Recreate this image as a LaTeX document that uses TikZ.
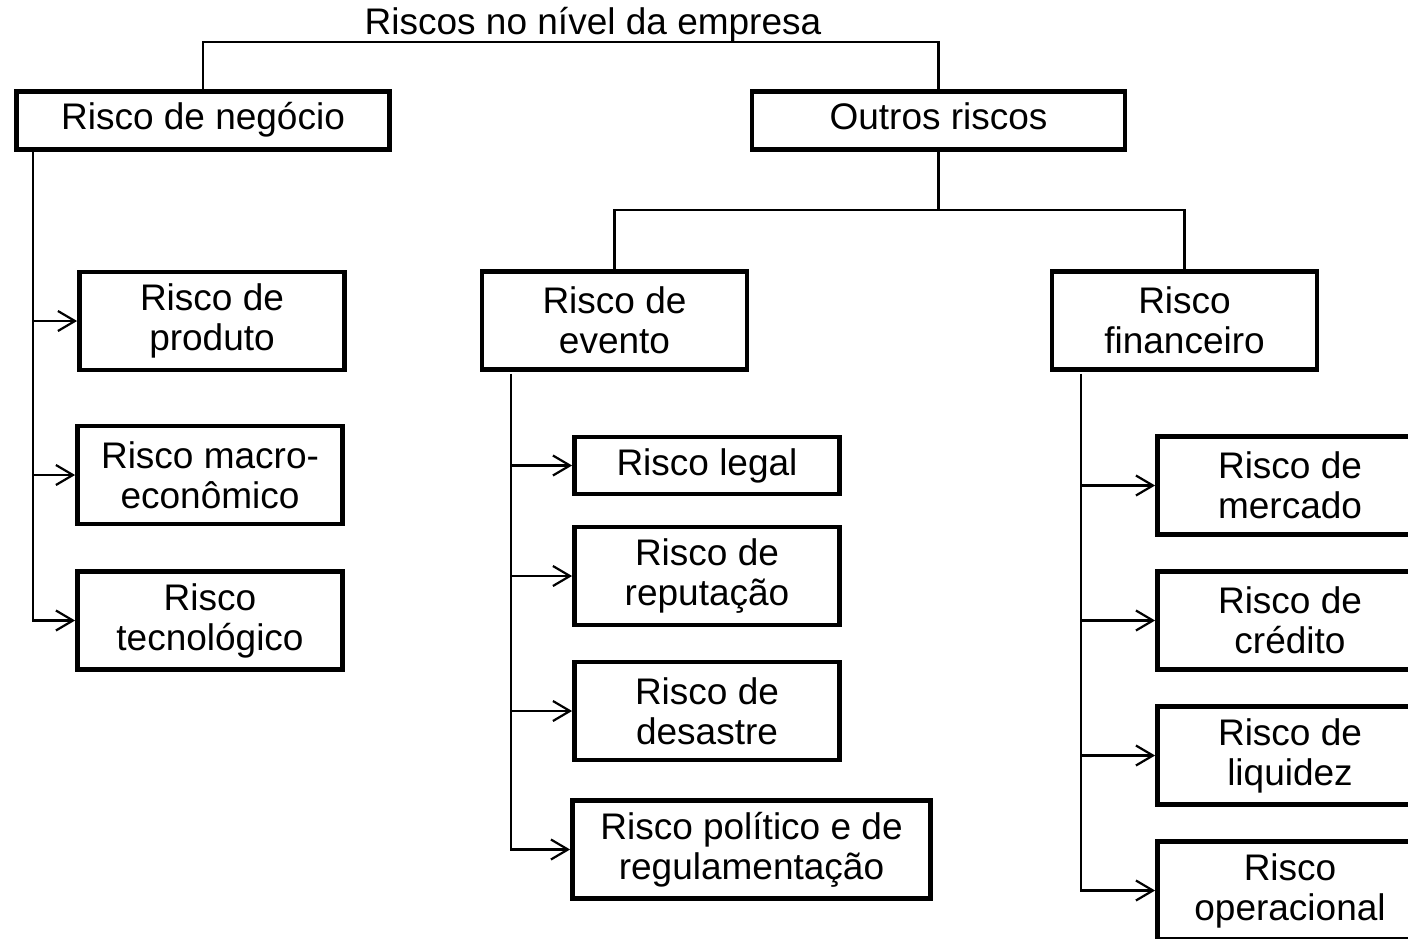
\documentclass[tikz,border=0pt]{standalone}
\usepackage{fontspec}
\setmainfont{Liberation Sans}
\usetikzlibrary{arrows.meta}
\tikzset{
  lab/.style={font=\fontsize{37}{40}\selectfont, inner sep=0pt},
  box/.style={draw=black, line width=4.8pt, fill=white, align=center, inner sep=0pt, font=\fontsize{37}{40}\selectfont},
  top/.style={box, minimum width=373pt, minimum height=58pt, text height=27pt, text depth=8pt},
  sub/.style={box, minimum width=265pt, minimum height=98pt},
  con/.style={draw=black, line width=2.2pt},
  arr/.style={con, -{Straight Barb[length=17pt,width=20pt]}},
}
\begin{document}
\begin{tikzpicture}[x=1pt,y=-1pt]
  \useasboundingbox (0,0) rectangle (1408,939);
  \clip (0,0) rectangle (1408,939);
  % top level
  \node[lab,anchor=south] (title) at (593,42) {Riscos no nível da empresa};
  \node[top] (neg) at (203,120.5) {Risco de negócio};
  \node[top] (outros) at (938.5,120.5) {Outros riscos};
  \draw[con] (neg.north) |- (title.south) -| (outros.north);
  % second level
  \node[sub] (evento) at (614.5,320.5) {Risco de\\evento};
  \node[sub] (fin) at (1184.5,320.5) {Risco\\financeiro};
  \coordinate (split) at ([yshift=-58pt]outros.south);
  \draw[con] (outros.south) -- (split);
  \draw[con] (evento.north) |- (split) -| (fin.north);
  % business risks
  \node[sub] (prod) at (212,321) {Risco de\\produto};
  \node[sub] (macro) at (210,475) {Risco macro-\\econômico};
  \node[sub] (tec) at (210,620.5) {Risco\\tecnológico};
  \coordinate (negT) at ([xshift=19pt]neg.south west);
  \foreach \c in {prod,macro}
    \draw[arr] (negT |- \c.west) -- (\c.west);
  \draw[arr] (negT) |- (tec.west);
  % event risks
  \node[sub,minimum height=57pt,text height=27pt,text depth=8pt] (legal) at (707,465.5) {Risco legal};
  \node[sub] (rep) at (707,576) {Risco de\\reputação};
  \node[sub] (des) at (707,711) {Risco de\\desastre};
  \node[sub,minimum width=358pt] (pol) at (751.5,849.5) {Risco político e de\\regulamentação};
  \coordinate (evT) at ([xshift=31pt,yshift=-2pt]evento.south west);
  \foreach \c in {legal,rep,des}
    \draw[arr] (evT |- \c.west) -- (\c.west);
  \draw[arr] (evT) |- (pol.west);
  % financial risks
  \node[sub] (merc) at (1290,485.5) {Risco de\\mercado};
  \node[sub] (cred) at (1290,620.5) {Risco de\\crédito};
  \node[sub] (liq) at (1290,755.5) {Risco de\\liquidez};
  \node[sub] (oper) at (1290,890.5) {Risco\\operacional};
  \coordinate (finT) at ([xshift=31pt,yshift=-2pt]fin.south west);
  \foreach \c in {merc,cred,liq}
    \draw[arr] (finT |- \c.west) -- (\c.west);
  \draw[arr] (finT) |- (oper.west);
\end{tikzpicture}
\end{document}
